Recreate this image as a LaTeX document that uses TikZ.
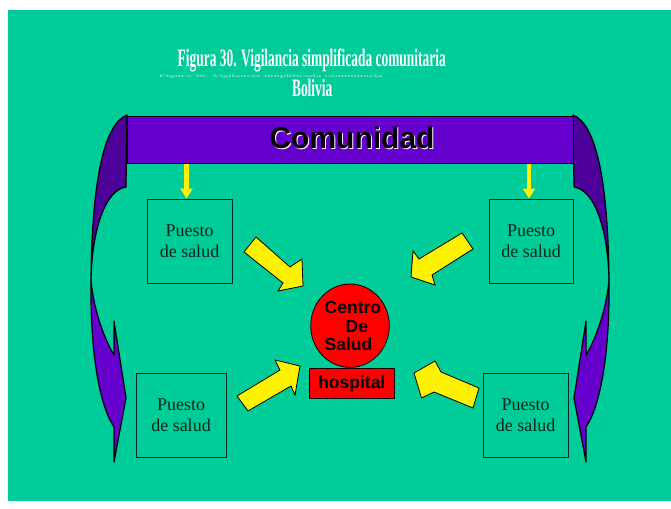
\documentclass[tikz,border=0pt]{standalone}
\usepackage{fontspec}
\setmainfont{Liberation Serif}
\newfontfamily\arialfont{Liberation Sans}
\usetikzlibrary{shapes.geometric,arrows.meta}
\definecolor{fondo}{HTML}{00CC99}
\definecolor{morado}{HTML}{6600CC}
\definecolor{moradooscuro}{HTML}{4C0099}
\definecolor{borde}{HTML}{00261A}
% curved side arrow (left one, mirrored for the right)
\newcommand{\brazo}{%
  \filldraw[curva,fill=moradooscuro] (127,115) .. controls (104,124) and (92,180) .. (91,280)
    .. controls (92,230) and (105,190) .. (126,187) -- cycle;
  \filldraw[curva,fill=morado] (91,280) .. controls (90,350) and (99,405) .. (114,427)
    -- (114,462) -- (126,398) -- (114,321) -- (114,355)
    .. controls (102,335) and (93,305) .. (91,280) -- cycle;
}
\begin{document}
\begin{tikzpicture}[x=1pt,y=-1pt,
    puesto/.style={draw=borde,line width=1pt,minimum width=85pt,minimum height=84pt,
      inner sep=0pt,align=center,text=borde,font=\fontsize{18}{21}\selectfont},
    flecha/.style={yellow,line width=4.5pt,-{Triangle[width=12pt,length=10pt]}},
    bloque/.style={fill=yellow,draw=black,line width=0.8pt,line join=miter},
    curva/.style={draw=black,line width=1.2pt,line join=round},
    rojo/.style={draw=black,line width=0.8pt,fill=red},
    negrita/.style={font=\arialfont\bfseries\fontsize{17.5}{18.8}\selectfont},
    titulo/.style={text=white,inner sep=0pt,font=\bfseries\fontsize{25}{25}\selectfont}]
\useasboundingbox (0,0) rectangle (671,508);
\fill[white] (0,0) rectangle (671,508);
\fill[fondo] (8,10) rectangle (671,501);

% title
\node[titulo,anchor=base] (tit) at (311.7,66.7) {\scalebox{0.537}[1]{Figura 30. Vigilancia simplificada comunitaria}};
\node[text=white,opacity=0.45,anchor=base,inner sep=0pt,font=\bfseries\fontsize{7}{7}\selectfont] (sombra) at (271,77.3) {\scalebox{1.6}[0.55]{Figura 30. Vigilancia simplificada comunitaria}};
\node[titulo,anchor=base] (bolivia) at (312.2,96) {\scalebox{0.537}[1]{Bolivia}};

% side arrows
\brazo
\begin{scope}[xshift=700pt,xscale=-1]
  \brazo
\end{scope}

% banner
\node[draw,line width=1pt,fill=morado,minimum width=446pt,minimum height=47pt] (comunidad) at (350,139.5) {};
\node[anchor=base,text=white,font=\arialfont\bfseries\fontsize{30}{30}\selectfont] (comsombra) at (353,149.3) {Comunidad};
\node[anchor=base,font=\arialfont\bfseries\fontsize{30}{30}\selectfont] (comtxt) at (352,148.3) {Comunidad};

% puestos
\node[puesto] (tl) at (189.5,241) {Puesto\\de salud};
\node[puesto,minimum width=84pt] (tr) at (531,241) {Puesto\\de salud};
\node[puesto,minimum width=90pt] (bl) at (181,415) {Puesto\\de salud};
\node[puesto] (br) at (525.5,415) {Puesto\\de salud};

\coordinate (ftl) at ([xshift=-3pt]tl.north);
\coordinate (ftr) at ([xshift=-2pt]tr.north);
\draw[flecha] (ftl |- comunidad.south) -- (ftl);
\draw[flecha] (ftr |- comunidad.south) -- (ftr);

% block arrows to the centre
\filldraw[bloque] (256,237) -- (290,267) -- (302,259) -- (303,286) -- (278,291) -- (283,283) -- (244,252) -- cycle;
\filldraw[bloque] (462,233) -- (473,249) -- (432,275) -- (435,285) -- (411,277) -- (413,251) -- (419,259) -- cycle;
\filldraw[bloque] (237,396) -- (280,370) -- (275,360) -- (300,366) -- (295,395) -- (291,386) -- (248,411) -- cycle;
\filldraw[bloque] (479,388) -- (441,372) -- (435,361) -- (414,373) -- (421.5,398) -- (434,392) -- (473,408) -- cycle;

% centre
\node[rojo,ellipse,inner sep=0pt,minimum width=78.6pt,minimum height=83.4pt] (centro) at (350,325.7) {};
\node[negrita,align=left,inner sep=0pt] (centrotxt) at (352.9,326) {Centro\\\hspace*{21pt}De\\Salud};
\node[rojo,negrita,inner sep=0pt,minimum width=85pt,minimum height=29.6pt] (hospital) at (351.8,383.5) {hospital};
\end{tikzpicture}
\end{document}
